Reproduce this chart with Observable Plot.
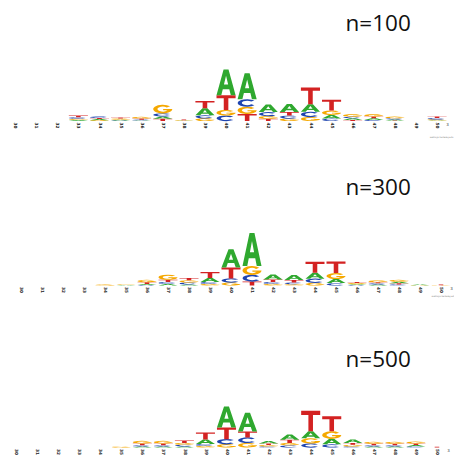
<!DOCTYPE html>
<html>
<head>
<meta charset="utf-8">
<script src="https://cdn.jsdelivr.net/npm/d3@7"></script>
<script src="https://cdn.jsdelivr.net/npm/@observablehq/plot@0.6"></script>
<style>
  html, body { margin: 0; padding: 0; background: #fff; }
  #chart { width: 454px; }
  #chart svg { display: block; }
</style>
</head>
<body>
<div id="chart"></div>
<script>
// ---- data (information content in bits) ----
const positions = [30,31,32,33,34,35,36,37,38,39,40,41,42,43,44,45,46,47,48,49,50];
const bases = ["A", "C", "G", "T"];
const baseColors = ["#2fa82f", "#1f45b0", "#f5a800", "#d32222"];
const titles = ["n=100", "n=300", "n=500"];

const n100_A = [0,0,0,.04,.04,.03,.02,.09,.01,.26,.96,.96,.28,.30,.28,.13,.06,.06,.04,0,.02];
const n100_C = [0,0,0,.06,.06,.02,.03,.11,0,.11,.20,.28,.15,.11,.19,.09,.06,.04,.04,0,.05];
const n100_G = [0,0,0,.04,.03,.04,.06,.32,.02,.10,.21,.27,.10,.09,.15,.17,.09,.08,.06,0,.04];
const n100_T = [0,0,0,.06,.04,.04,.04,.08,.03,.27,.54,.26,.08,.13,.62,.40,.04,.07,.02,0,.06];

const n300_A = [0,0,0,0,0,.02,.04,.06,.04,.15,.67,1.22,.19,.19,.22,.15,.03,.04,.06,.03,0];
const n300_C = [0,0,0,0,0,0,.02,.07,.07,.07,.15,.24,.07,.06,.15,.09,.02,.04,.04,0,0];
const n300_G = [0,0,0,0,.04,.02,.09,.19,.08,.06,.11,.33,.06,.05,.10,.22,.04,.07,.07,.01,.01];
const n300_T = [0,0,0,0,0,0,.06,.08,.09,.22,.41,.15,.09,.09,.41,.43,.04,.04,.04,0,.03];

const n500_A = [0,0,0,0,0,0,.04,.04,.04,.17,.78,.70,.09,.19,.26,.20,.13,.04,.04,.05,0];
const n500_C = [0,0,0,0,0,0,.04,.04,.06,.07,.19,.20,.04,.08,.15,.12,.04,.04,.04,.04,0];
const n500_G = [0,0,0,0,0,.03,.09,.09,.07,.06,.12,.17,.05,.09,.19,.28,.06,.07,.07,.07,0];
const n500_T = [0,0,0,0,0,0,.07,.07,.09,.26,.43,.22,.06,.12,.76,.56,.07,.06,.06,.06,.03];

// ---- helpers ----
function stackColumns(cols) {
  const rows = [];
  positions.forEach((p, i) => {
    const col = bases.map(b => ({base: b, bits: cols[b][i]}))
      .filter(d => d.bits > 0)
      .sort((a, b) => a.bits - b.bits);
    let y = 0;
    for (const d of col) {
      rows.push({pos: p, base: d.base, y1: y, y2: y + d.bits});
      y += d.bits;
    }
  });
  return rows;
}

// letter outlines in a unit box (y down)
const glyphs = {
  A: "M0,1 L0.37,0 L0.63,0 L1,1 L0.75,1 L0.67,0.76 L0.33,0.76 L0.25,1 Z M0.39,0.58 L0.61,0.58 L0.5,0.24 Z",
  T: "M0,0 H1 V0.2 H0.62 V1 H0.38 V0.2 H0 Z",
  C: "M0.883,0.179 A0.5,0.5 0 1 0 0.883,0.821 L0.714,0.68 A0.28,0.28 0 1 1 0.714,0.32 Z",
  G: "M0.883,0.179 A0.5,0.5 0 1 0 1,0.5 L0.52,0.5 L0.52,0.64 L0.745,0.64 A0.28,0.28 0 1 1 0.714,0.32 Z"
};

function logo(data) {
  return Plot.rect(data, {
    x1: d => d.pos - 0.5,
    x2: d => d.pos + 0.5,
    y1: "y1",
    y2: "y2",
    fill: "base",
    render(index, scales, values) {
      const g = d3.create("svg:g");
      const inset = 1;
      for (const i of index) {
        const xa = values.x1[i], xb = values.x2[i];
        const ya = values.y1[i], yb = values.y2[i];
        const left = Math.min(xa, xb) + inset;
        const w = Math.abs(xb - xa) - 2 * inset;
        const top = Math.min(ya, yb);
        const h = Math.abs(yb - ya);
        g.append("path")
          .attr("d", glyphs[data[i].base])
          .attr("fill", values.fill[i])
          .attr("fill-rule", "evenodd")
          .attr("transform", `translate(${left},${top}) scale(${w},${h})`);
      }
      return g.node();
    }
  });
}

const panels = [
  {title: titles[0], cols: {A: n100_A, C: n100_C, G: n100_G, T: n100_T},
   height: 165, base: 121, xr: [4.5, 447.6], ty: 30, wdx: 4, wdy: 15.5, enddx: 10, credit: true},
  {title: titles[1], cols: {A: n300_A, C: n300_C, G: n300_G, T: n300_T},
   height: 165, base: 120.5, xr: [10.5, 451.5], ty: 29, wdx: 2, wdy: 10.5, enddx: 10, credit: true},
  {title: titles[2], cols: {A: n500_A, C: n500_C, G: n500_G, T: n500_T},
   height: 125, base: 117.5, xr: [5.5, 447.5], ty: 36.7, wdx: 4, wdy: 15.5, enddx: 11, credit: false}
];

const pxPerBit = 27;
const chart = document.getElementById("chart");

for (const p of panels) {
  const data = stackColumns(p.cols);
  const marks = [
    logo(data),
    Plot.text(positions, {
      x: d => d, y: 0, text: d => String(d),
      rotate: 90, textAnchor: "start", dy: 1,
      fontSize: 4.3, fill: "#222", fontWeight: "bold",
      fontFamily: "DejaVu Sans"
    }),
    Plot.text(["3"], {
      x: positions[positions.length - 1], y: 0, dx: p.enddx, dy: 3,
      fontSize: 4, fill: "#333", fontFamily: "DejaVu Sans"
    }),
    Plot.text([p.title], {
      frameAnchor: "top-left", dx: 345, dy: p.ty,
      textAnchor: "start", lineAnchor: "bottom",
      fontSize: 22.5, fill: "#111", fontFamily: "Open Sans"
    })
  ];
  if (p.credit) {
    marks.push(Plot.text(["weblogo.berkeley.edu"], {
      x: positions[positions.length - 1], y: 0, dx: p.wdx, dy: p.wdy,
      fontSize: 2.2, fill: "#888", fontFamily: "DejaVu Sans"
    }));
  }
  const plot = Plot.plot({
    width: 454,
    height: p.height,
    margin: 0,
    x: {domain: [29.5, 50.5], range: p.xr, axis: null},
    y: {domain: [0, 2], range: [p.base, p.base - 2 * pxPerBit], axis: null},
    color: {domain: bases, range: baseColors},
    marks
  });
  chart.appendChild(plot);
}
</script>
</body>
</html>
